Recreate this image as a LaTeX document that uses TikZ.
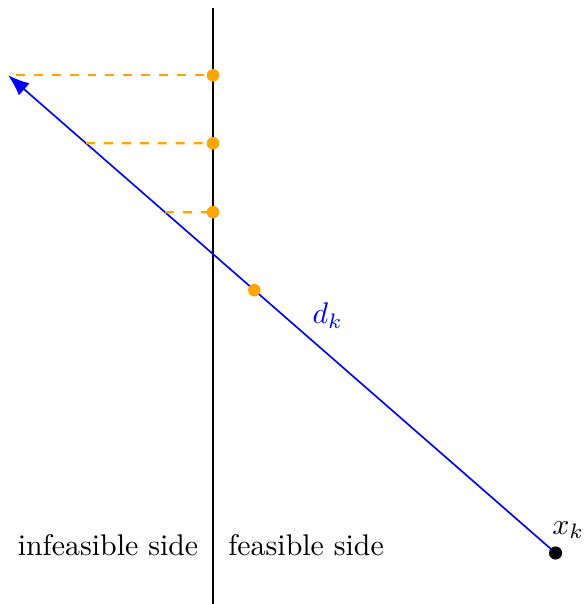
\documentclass[tikz,border=0pt]{standalone}
\usepackage{xcolor}
\usetikzlibrary{arrows.meta,calc}
\definecolor{dotorange}{RGB}{255,165,0}

\begin{document}
\begin{tikzpicture}[
    wall/.style={draw=black, line width=0.9pt},
    dirline/.style={draw=blue, line width=0.55pt, -{Latex[length=2.5mm,width=1.9mm]}},
    proj/.style={draw=dotorange, dashed, line width=0.8pt},
    trial/.style={circle, fill=dotorange, inner sep=0pt, minimum size=4.2pt},
    iterate/.style={circle, fill=black, inner sep=0pt, minimum size=4.4pt}
]
    \useasboundingbox (-2.506,-0.6) rectangle (4.388,6.506);

    \coordinate (wtop) at (0,6.41);
    \coordinate (wbot) at (0,-0.6);
    \coordinate (xk) at (4.03,0);
    \coordinate (tip) at (-2.41,5.62);

    \draw[wall] (wbot) -- (wtop);
    \draw[dirline] (xk) -- (tip);

    % projections of the trial points onto the boundary
    \coordinate (c1) at ($(xk)!1.0!(tip)$);
    \coordinate (c2) at ($(xk)!0.8577!(tip)$);
    \coordinate (c3) at ($(xk)!0.7134!(tip)$);
    \node[trial] (p1) at (0,5.62) {};
    \node[trial] (p2) at (0,4.82) {};
    \node[trial] (p3) at (0,4.01) {};
    \draw[proj] (c1 -| tip) ++(0.09,0) -- (p1.center);
    \draw[proj] (c2) -- (p2.center);
    \draw[proj] (c3) -- (p3.center);
    \node[trial] (q) at ($(xk)!0.5503!(tip)$) {};

    \node[iterate] (xkdot) at (xk) {};
    \node[text=blue] (dk) at (1.35,2.79) {$d_k$};
    \node (xklab) at (4.18,0.27) {$x_k$};

    \node (infeas) at (-1.235,0.094) {infeasible side};
    \node (feas) at (1.095,0.094) {feasible side};
\end{tikzpicture}
\end{document}
